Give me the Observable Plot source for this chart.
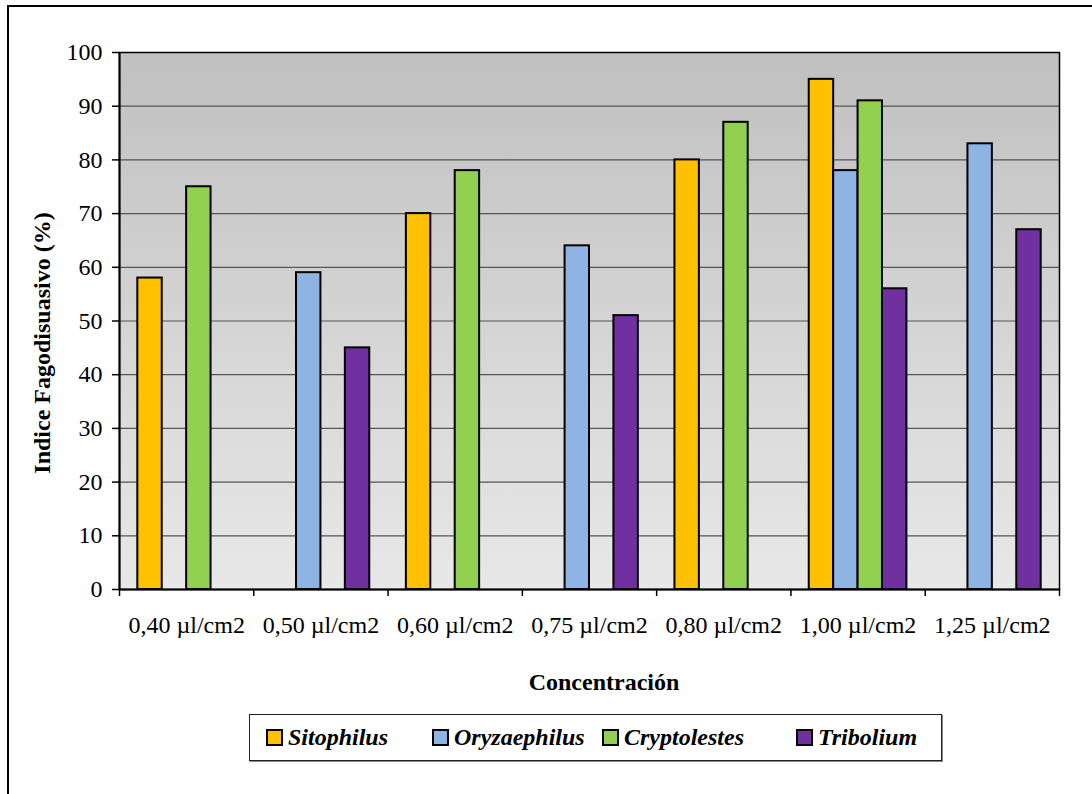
<!DOCTYPE html>
<html>
<head>
<meta charset="utf-8">
<script src="https://cdn.jsdelivr.net/npm/d3@7"></script>
<script src="https://cdn.jsdelivr.net/npm/@observablehq/plot@0.6"></script>
<style>
  html, body { margin: 0; padding: 0; background: #fff; }
  #wrap { position: relative; width: 1092px; height: 794px; overflow: hidden; font-family: "Liberation Serif", "Times New Roman", serif; }
  #border { position: absolute; left: 7px; top: 5px; width: 1200px; height: 1000px; border-left: 2px solid #000; border-top: 2px solid #000; }
  #chart { position: absolute; left: 0; top: 0; }
  .ytitle { position: absolute; left: 42px; top: 343px; transform: translate(-50%, -50%) rotate(-90deg); white-space: nowrap; font-weight: bold; font-size: 24px; }
  .xtitle { position: absolute; left: 604px; top: 682px; transform: translate(-50%, -50%); white-space: nowrap; font-weight: bold; font-size: 24px; }
  #legend { position: absolute; left: 249px; top: 714px; width: 691px; height: 45px; border: 1px solid #222; box-shadow: 1px 1px 0 #888; background: #fff; }
  .item { position: absolute; top: 0; height: 45px; display: flex; align-items: center; font-weight: bold; font-style: italic; font-size: 24px; white-space: nowrap; }
  .sw { width: 13px; height: 13px; border: 2px solid #000; margin-right: 5px; }
</style>
</head>
<body>
<div id="wrap">
  <div id="border"></div>
  <svg width="0" height="0" style="position:absolute">
    <defs>
      <linearGradient id="bg" x1="0" y1="0" x2="0" y2="1">
        <stop offset="0%" stop-color="#c0c0c0"></stop>
        <stop offset="100%" stop-color="#e8e8e8"></stop>
      </linearGradient>
    </defs>
  </svg>
  <div id="chart"></div>
  <div class="ytitle">Indice Fagodisuasivo (%)</div>
  <div class="xtitle">Concentración</div>
  <div id="legend"></div>
</div>
<script>
// ---- data ----
const categories = ["0,40 µl/cm2", "0,50 µl/cm2", "0,60 µl/cm2", "0,75 µl/cm2", "0,80 µl/cm2", "1,00 µl/cm2", "1,25 µl/cm2"];
const species = ["Sitophilus", "Oryzaephilus", "Cryptolestes", "Tribolium"];
const sitophilus   = [58, null, 70, null, 80, 95, null];
const oryzaephilus = [null, 59, null, 64, null, 78, 83];
const cryptolestes = [75, null, 78, null, 87, 91, null];
const tribolium    = [null, 45, null, 51, null, 56, 67];
const yTicks = [0, 10, 20, 30, 40, 50, 60, 70, 80, 90, 100];
const colors = ["#FFC000", "#8EB4E3", "#92D050", "#7030A0"];

// ---- table ----
const series = [sitophilus, oryzaephilus, cryptolestes, tribolium];
const gapWidth = 1.5; // Excel gap width 150%
const slots = species.length + gapWidth;
const rows = [];
categories.forEach((c, i) => {
  series.forEach((vals, j) => {
    const v = vals[i];
    if (v == null) return;
    const x1 = i + (gapWidth / 2 + j) / slots;
    rows.push({category: c, species: species[j], value: v, x1, x2: x1 + 1 / slots});
  });
});
const boundaries = d3.range(0, categories.length + 1);
const centers = categories.map((c, i) => i + 0.5);

const chart = Plot.plot({
  width: 1092,
  height: 794,
  marginLeft: 119,
  marginRight: 33,
  marginTop: 52,
  marginBottom: 205,
  style: {fontFamily: "'Liberation Serif', 'Times New Roman', serif", fontSize: "24px", background: "transparent", color: "#000"},
  x: {type: "linear", domain: [0, categories.length]},
  y: {domain: [0, 100]},
  color: {domain: species, range: colors},
  marks: [
    Plot.frame({fill: "url(#bg)", stroke: "none"}),
    Plot.gridY({ticks: yTicks.slice(1, -1), stroke: "#555", strokeOpacity: 1, strokeWidth: 1.2}),
    Plot.rectY(rows, {x1: "x1", x2: "x2", y: "value", fill: "species", stroke: "#000", strokeWidth: 2, inset: 0}),
    Plot.frame({stroke: "#000", strokeWidth: 1.5}),
    Plot.ruleY([0], {stroke: "#000", strokeWidth: 2}),
    Plot.ruleX([0], {stroke: "#000", strokeWidth: 2}),
    Plot.axisY({ticks: yTicks, tickSize: 7, tickPadding: 10, label: null, tickFormat: d => String(d), strokeWidth: 1.5}),
    Plot.axisX({ticks: boundaries, tickSize: 7, tickFormat: () => "", label: null, strokeWidth: 1.5}),
    Plot.axisX({ticks: centers, tickSize: 0, tickPadding: 26, tickFormat: d => categories[Math.round(d - 0.5)], label: null})
  ]
});
document.getElementById("chart").appendChild(chart);

// ---- legend ----
const legendX = [16, 182, 352, 546];
const legend = document.getElementById("legend");
species.forEach((s, j) => {
  const item = document.createElement("div");
  item.className = "item";
  item.style.left = legendX[j] + "px";
  const sw = document.createElement("div");
  sw.className = "sw";
  sw.style.background = colors[j];
  const t = document.createElement("span");
  t.textContent = s;
  item.appendChild(sw);
  item.appendChild(t);
  legend.appendChild(item);
});
</script>
</body>
</html>
